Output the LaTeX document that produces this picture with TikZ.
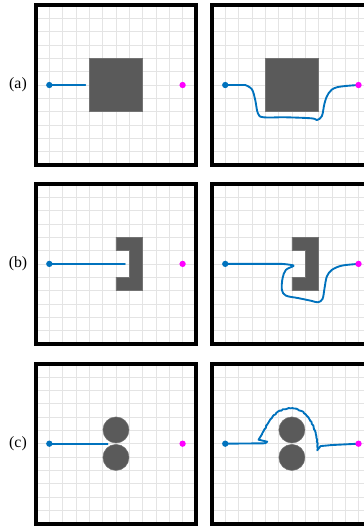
\documentclass[tikz,border=0pt]{standalone}
\usepackage{fontspec}
\setmainfont{Liberation Serif}
\usetikzlibrary{decorations.pathmorphing}

\definecolor{pathblue}{RGB}{0,114,189}
\definecolor{goalmag}{RGB}{255,0,255}
\definecolor{obstgray}{RGB}{90,90,90}
\definecolor{gridgray}{RGB}{228,228,228}

\begin{document}
\begin{tikzpicture}[x=0.4cm, y=0.4cm,
  frame/.style={draw=black, line width=3.4pt},
  gridline/.style={draw=gridgray, line width=0.6pt},
  obst/.style={fill=obstgray, draw=black!55, line width=0.4pt},
  traj/.style={draw=pathblue, line width=1.6pt, line cap=round, line join=round},
  startdot/.style={circle, fill=pathblue, inner sep=0pt, minimum size=5.4pt},
  goaldot/.style={circle, fill=goalmag, inner sep=0pt, minimum size=5.4pt},
  lbl/.style={font=\fontsize{13.5}{16}\selectfont},
  wiggle/.style={decoration={random steps, segment length=1.6pt, amplitude=0.4pt}},
]
\useasboundingbox (-2.7,-0.25) rectangle (24.6,39.29);

% grids and frames
\foreach \px in {0,13.2}
  \foreach \py in {0,13.49,26.91} {
    \draw[gridline, step=0.4cm, shift={(\px,\py)}] (0,0) grid (12,12);
    \draw[frame, shift={(\px,\py)}] (0,0) rectangle (12,12);
  }

% (a) square
\begin{scope}[shift={(0,26.91)}]
\node[lbl] (la) at (-1.35,6) {(a)};
\fill[obst] (4,4) rectangle (8,8);
\coordinate (s1) at (1,6);
\coordinate (e1) at (3.7,6);
\draw[traj] (s1) -- (e1);
\node[startdot] (sa) at (s1) {};
\node[goaldot] (ga) at (11,6) {};
\end{scope}
\begin{scope}[shift={(13.2,26.91)}]
\fill[obst] (4,4) rectangle (8,8);
\coordinate (s2) at (1,6);
\coordinate (g2) at (11,6);
\draw[traj] (s2) -- (2.5,6) -- plot[smooth, tension=0.6] coordinates {(2.5,6) (3.0,5.68) (3.25,4.875) (3.45,3.88) (3.87,3.58) (5.5,3.58) (7.5,3.5) (7.87,3.375) (8.25,3.67) (8.45,4.63) (8.75,5.38) (9.37,5.83) (11,6)};
\node[startdot] (sa2) at (s2) {};
\node[goaldot] (ga2) at (g2) {};
\end{scope}

% (b) bracket
\begin{scope}[shift={(0,13.49)}]
\node[lbl] (lb) at (-1.35,6) {(b)};
\fill[obst] (6,4) -- (8,4) -- (8,8) -- (6,8) -- (6,7) -- (7,7) -- (7,5) -- (6,5) -- cycle;
\coordinate (s3) at (1,6);
\coordinate (e3) at (6.67,6);
\draw[traj] (s3) -- (e3);
\node[startdot] (sb) at (s3) {};
\node[goaldot] (gb) at (11,6) {};
\end{scope}
\begin{scope}[shift={(13.2,13.49)}]
\fill[obst] (6,4) -- (8,4) -- (8,8) -- (6,8) -- (6,7) -- (7,7) -- (7,5) -- (6,5) -- cycle;
\coordinate (s4) at (1,6);
\coordinate (g4) at (11,6);
\draw[traj] (s4) -- (5.25,6) -- plot[smooth, tension=0.55] coordinates {(5.25,6) (5.75,5.95) (6.12,5.85) (5.55,5.55) (5.3,4.93) (5.25,4.05) (5.55,3.62) (6.5,3.43) (7.5,3.22) (7.95,3.12) (8.3,3.37) (8.45,4.18) (8.62,5.05) (9.0,5.55) (9.75,5.87) (11,6)};
\node[startdot] (sb2) at (s4) {};
\node[goaldot] (gb2) at (g4) {};
\end{scope}

% (c) two discs
\begin{scope}[shift={(0,0)}]
\node[lbl] (lc) at (-1.35,6) {(c)};
\fill[obst] (6,7.03) circle (0.98) (6,4.97) circle (0.98);
\coordinate (s5) at (1,6);
\coordinate (e5) at (5.37,6);
\draw[traj] (s5) -- (e5);
\node[startdot] (sc) at (s5) {};
\node[goaldot] (gc) at (11,6) {};
\end{scope}
\begin{scope}[shift={(13.2,0)}]
\fill[obst] (6,7.03) circle (0.98) (6,4.97) circle (0.98);
\coordinate (s6) at (1,6);
\coordinate (g6) at (11,6);
\draw[traj] (s6) -- (4.0,6.03) -- (4.15,6.15) -- (3.5,6.3) -- (3.75,6.7)
  decorate[wiggle] {to[out=62,in=180] (5.9,8.65) to[out=0,in=93] (7.95,5.6)}
  -- (7.9,5.5) -- (8.15,5.82) -- (9.0,5.9) -- (g6);
\node[startdot] (sc2) at (s6) {};
\node[goaldot] (gc2) at (g6) {};
\end{scope}
\end{tikzpicture}
\end{document}
